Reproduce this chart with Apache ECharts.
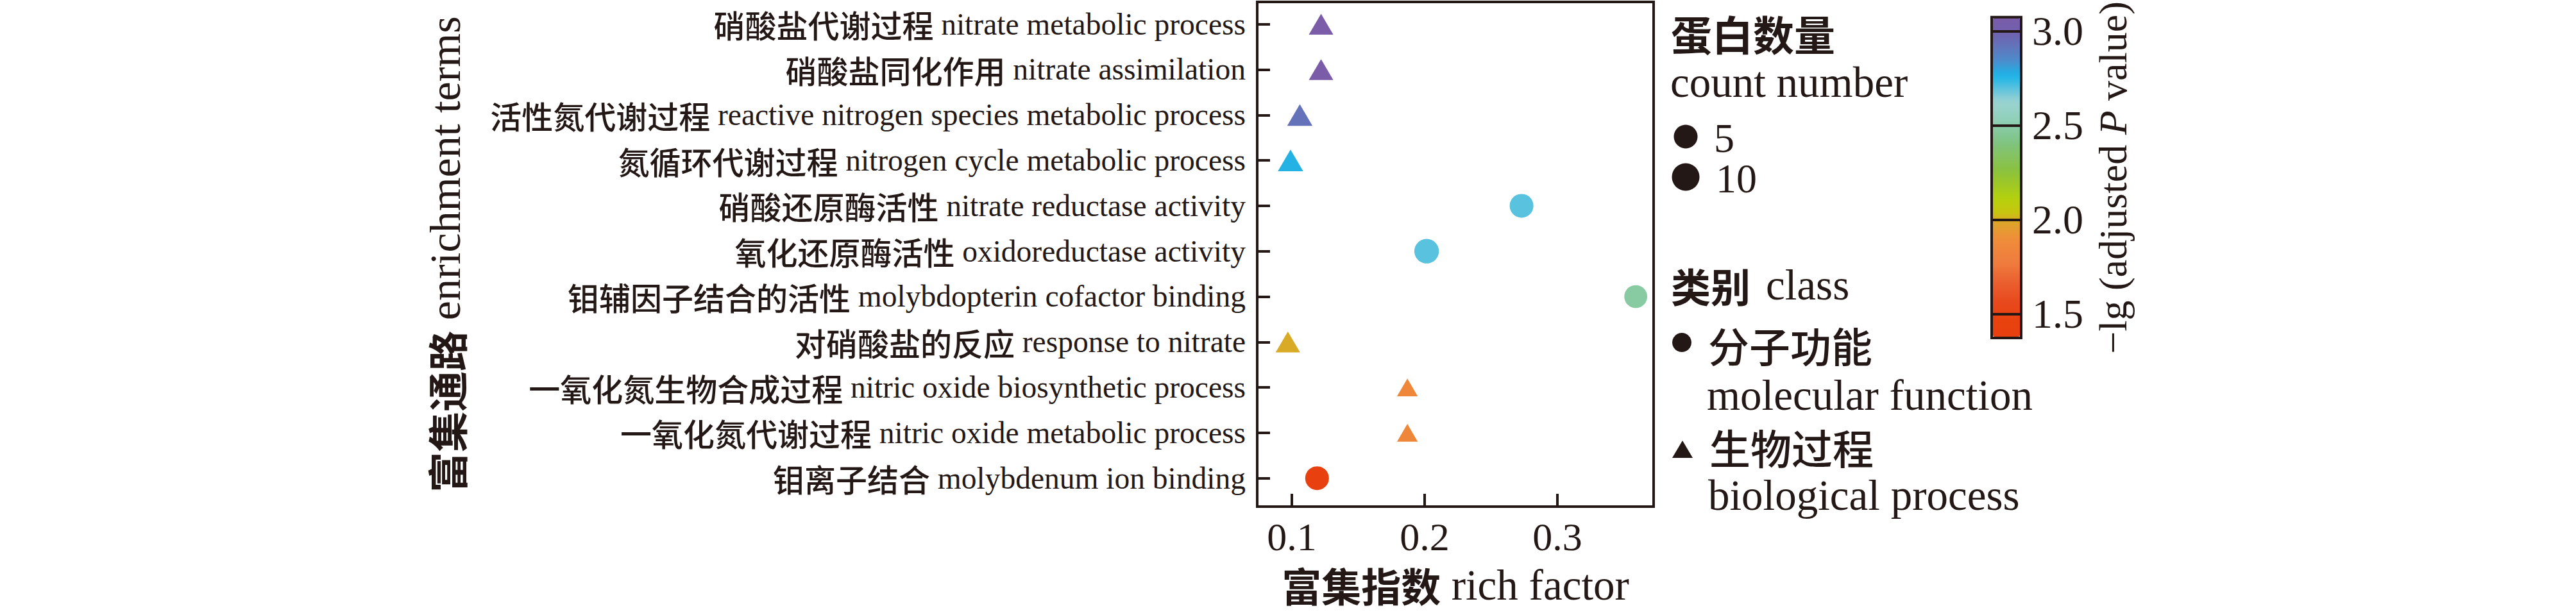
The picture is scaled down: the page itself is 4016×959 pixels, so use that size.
<!DOCTYPE html>
<html>
<head>
<meta charset="utf-8">
<script src="https://cdn.jsdelivr.net/npm/echarts@6/dist/echarts.min.js"></script>
<style>
html,body{margin:0;padding:0;background:#fff;}
#chart{width:4016px;height:959px;}
</style>
</head>
<body>
<div id="chart"></div>
<script>
// ---- data ----
const termsZh = ['硝酸盐代谢过程','硝酸盐同化作用','活性氮代谢过程','氮循环代谢过程','硝酸还原酶活性','氧化还原酶活性','钼辅因子结合的活性','对硝酸盐的反应','一氧化氮生物合成过程','一氧化氮代谢过程','钼离子结合'];
const termsEn = ['nitrate metabolic process','nitrate assimilation','reactive nitrogen species metabolic process','nitrogen cycle metabolic process','nitrate reductase activity','oxidoreductase activity','molybdopterin cofactor binding','response to nitrate','nitric oxide biosynthetic process','nitric oxide metabolic process','molybdenum ion binding'];
const termClass = ['BP','BP','BP','BP','MF','MF','MF','BP','BP','BP','MF'];
const richFactor = [0.122,0.122,0.106,0.099,0.273,0.2015,0.359,0.097,0.187,0.187,0.119];
const lgP = [3.07,3.07,2.93,2.77,2.70,2.70,2.48,1.99,1.85,1.85,1.372];
const counts = [5,5,6,6,5,6,4,5,1,1,5];
const xTicks = [0.1,0.2,0.3];
const colorTicks = [1.5,2.0,2.5,3.0];
const sizeLegend = [5,10];
const colorMin = 1.372, colorMax = 3.074;

// ---- styles ----
const INK = '#231815';
const SERIF = "'Liberation Serif','Noto Sans CJK SC'";
const CJK = "'Noto Sans CJK SC'";
const ZHW = 'bold';
const ZHL = 500;
const colorKeys = [
  [1.372,'#E8410F'],[1.46,'#E8420F'],[1.554,'#E8491D'],[1.657,'#EA5E2E'],
  [1.77,'#EF7D3E'],[1.894,'#EF8D3A'],[1.984,'#DDA52A'],[2.03,'#C8C40F'],
  [2.109,'#B5D10D'],[2.256,'#8BC13D'],[2.426,'#7FC489'],[2.528,'#8FD0B8'],
  [2.63,'#9BD3D3'],[2.686,'#66C4DC'],[2.766,'#19B5E8'],[2.846,'#4D8CCB'],
  [2.935,'#6570B8'],[3.0,'#7160AE'],[3.074,'#7B5CA9']
];
function hexToRgb(h){return [1,3,5].map(i=>parseInt(h.substr(i,2),16));}
function colorAt(v){
  for(let k=0;k<colorKeys.length-1;k++){
    const a=colorKeys[k], b=colorKeys[k+1];
    if(v<=b[0]){const t=(v-a[0])/(b[0]-a[0]);const ca=hexToRgb(a[1]),cb=hexToRgb(b[1]);
      const c=ca.map((x,i)=>Math.round(x+(cb[i]-x)*Math.max(0,Math.min(1,t))));
      return 'rgb('+c.join(',')+')';}
  }
  return colorKeys[colorKeys.length-1][1];
}
const NSTOP = 60;
const stops = [];
for(let i=0;i<NSTOP;i++){stops.push(colorAt(colorMin+(colorMax-colorMin)*i/(NSTOP-1)));}

function circleD(c){return Math.sqrt(889+96*c);}

const rows = termsZh.map((_,i)=>i);
const mfData = [], bpData = [];
rows.forEach(i=>{
  const d=[richFactor[i], i, lgP[i], counts[i]];
  (termClass[i]==='MF'?mfData:bpData).push(d);
});

const chart = echarts.init(document.getElementById('chart'), null, {renderer:'svg'});
const option = {
  animation:false,
  backgroundColor:'#fff',
  grid:[
    {left:1960, top:3, width:618, height:787, show:true, borderColor:INK, borderWidth:4, backgroundColor:'transparent', z:5},
    {left:3105, top:26, width:46, height:501, show:true, borderColor:INK, borderWidth:4, backgroundColor:'transparent', z:10}
  ],
  xAxis:[
    {gridIndex:0, type:'value', min:0.07391, max:0.37246,
     axisLine:{show:true, onZero:false, lineStyle:{color:INK, width:4}},
     axisTick:{show:true, inside:true, length:20, lineStyle:{color:INK, width:4}, customValues:xTicks},
     axisLabel:{customValues:xTicks, fontSize:62, fontFamily:SERIF, color:INK, margin:16, formatter:v=>v.toFixed(1)},
     splitLine:{show:false},
     name:'{zh|富集指数} {en|rich factor}', nameLocation:'middle', nameGap:88,
     nameTextStyle:{color:INK, fontSize:66, fontFamily:SERIF, rich:{zh:{fontFamily:CJK, fontWeight:ZHW, fontSize:62, color:INK}, en:{fontFamily:SERIF, fontSize:67, color:INK}}}
    },
    {gridIndex:1, type:'value', show:false, min:0, max:1}
  ],
  yAxis:[
    {gridIndex:0, type:'value', inverse:true, min:-0.49, max:10.626,
     axisLine:{show:true, onZero:false, lineStyle:{color:INK, width:4}},
     axisTick:{show:true, inside:true, length:20, lineStyle:{color:INK, width:4}, customValues:rows},
     axisLabel:{customValues:rows, margin:18, color:INK, fontSize:47, fontFamily:SERIF,
       formatter:v=>{const i=Math.round(v);return '{zh|'+termsZh[i]+'} {en|'+termsEn[i]+'}';},
       rich:{zh:{fontFamily:CJK, fontWeight:ZHL, fontSize:49, color:INK}, en:{fontFamily:SERIF, fontSize:47.5, color:INK}}},
     splitLine:{show:false},
     name:'{zh|富集通路} {en|enrichment terms}', nameLocation:'middle', nameGap:1232, nameRotate:90,
     nameTextStyle:{color:INK, fontSize:66, fontFamily:SERIF, rich:{zh:{fontFamily:CJK, fontWeight:ZHW, fontSize:63, color:INK}, en:{fontFamily:SERIF, fontSize:68, color:INK}}}
    },
    {gridIndex:1, type:'value', position:'right', min:colorMin, max:colorMax, z:10,
     axisLine:{show:false, onZero:false},
     axisTick:{show:true, inside:true, length:46, lineStyle:{color:INK, width:4}, customValues:colorTicks},
     axisLabel:{customValues:colorTicks, fontSize:64, fontFamily:SERIF, color:INK, margin:17, formatter:v=>v.toFixed(1)},
     splitLine:{show:false},
     name:'{n|−lg (adjusted }{i|P}{n| value)}', nameLocation:'middle', nameRotate:90, nameGap:112,
     nameTextStyle:{color:INK, rich:{n:{fontFamily:SERIF, fontSize:62, color:INK}, i:{fontFamily:SERIF, fontSize:62, fontStyle:'italic', color:INK}}}
    }
  ],
  visualMap:[{
    type:'continuous', min:colorMin, max:colorMax, dimension:2, seriesIndex:[0,1],
    calculable:false, left:3107, top:28, itemWidth:42, itemHeight:497, padding:0,
    inRange:{color:stops}, z:4
  }],
  series:[
    {type:'scatter', name:'分子功能 molecular function', xAxisIndex:0, yAxisIndex:0, symbol:'circle',
     data:mfData, symbolSize:v=>circleD(v[3]), itemStyle:{opacity:1}, z:3},
    {type:'scatter', name:'生物过程 biological process', xAxisIndex:0, yAxisIndex:0, symbol:'triangle',
     data:bpData, symbolSize:v=>{const d=circleD(v[3]);return [1.03*d,0.88*d];}, itemStyle:{opacity:1}, z:3}
  ],
  graphic:[
    {type:'text', x:2605, y:51, style:{text:'蛋白数量', fontFamily:CJK, fontWeight:ZHW, fontSize:64, fill:INK, textVerticalAlign:'middle', verticalAlign:'middle'}},
    {type:'text', x:2604, y:128, style:{text:'count number', fontFamily:SERIF, fontSize:67, fill:INK, textVerticalAlign:'middle', verticalAlign:'middle'}},
    {type:'circle', shape:{cx:2628, cy:213, r:circleD(sizeLegend[0])/2}, style:{fill:INK}},
    {type:'text', x:2672, y:215, style:{text:String(sizeLegend[0]), fontFamily:SERIF, fontSize:64, fill:INK, textVerticalAlign:'middle', verticalAlign:'middle'}},
    {type:'circle', shape:{cx:2628, cy:276, r:circleD(sizeLegend[1])/2}, style:{fill:INK}},
    {type:'text', x:2675, y:278, style:{text:String(sizeLegend[1]), fontFamily:SERIF, fontSize:64, fill:INK, textVerticalAlign:'middle', verticalAlign:'middle'}},
    {type:'text', x:2605, y:445, style:{text:'类别', fontFamily:CJK, fontWeight:ZHW, fontSize:62, fill:INK, textVerticalAlign:'middle', verticalAlign:'middle'}},
    {type:'text', x:2753, y:444, style:{text:'class', fontFamily:SERIF, fontSize:67, fill:INK, textVerticalAlign:'middle', verticalAlign:'middle'}},
    {type:'circle', shape:{cx:2622, cy:534, r:15}, style:{fill:INK}},
    {type:'text', x:2663, y:537, style:{text:'分子功能', fontFamily:CJK, fontWeight:ZHL, fontSize:64, fill:INK, textVerticalAlign:'middle', verticalAlign:'middle'}},
    {type:'text', x:2661, y:616, style:{text:'molecular function', fontFamily:SERIF, fontSize:67, fill:INK, textVerticalAlign:'middle', verticalAlign:'middle'}},
    {type:'polygon', shape:{points:[[2623,687],[2639,714],[2607,714]]}, style:{fill:INK}},
    {type:'text', x:2665, y:696, style:{text:'生物过程', fontFamily:CJK, fontWeight:ZHL, fontSize:64, fill:INK, textVerticalAlign:'middle', verticalAlign:'middle'}},
    {type:'text', x:2663, y:772, style:{text:'biological process', fontFamily:SERIF, fontSize:67, fill:INK, textVerticalAlign:'middle', verticalAlign:'middle'}}
  ]
};
chart.setOption(option);
</script>
</body>
</html>
